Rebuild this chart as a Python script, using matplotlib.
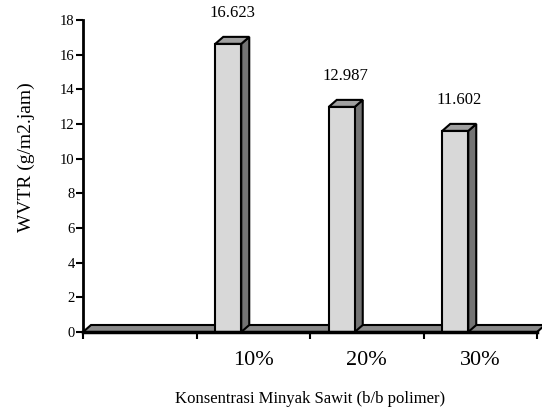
import matplotlib
matplotlib.use('Agg')
import matplotlib.pyplot as plt
from matplotlib.patches import Polygon

plt.rcParams['font.family'] = ['Liberation Serif', 'DejaVu Serif']

# data
categories = ['', '10%', '20%', '30%']
wvtr = [None, 16.623, 12.987, 11.602]
value_labels = ['', '16.623', '12.987', '11.602']

fig = plt.figure(figsize=(5.42, 4.09), dpi=100)
ax = fig.add_axes([83 / 542, 77 / 409, 454 / 542, 312 / 409])
ax.set_xlim(0, 4)
ax.set_ylim(0, 18)

# 3D-ish offsets in data units (about 8 px right, 7 px up)
px_x = 4 / 454
px_y = 18 / 312
dx = 8 * px_x
dy = 7 * px_y
bar_w = 26 * px_x
shift = -38 * px_x  # bar left relative to category center

front_col = '#d8d8d8'
side_col = '#747474'
top_col = '#a0a0a0'

# floor slab
floor = Polygon([(0, 0), (4, 0), (4 + dx, dy), (0 + dx, dy)], closed=True,
                facecolor='#8a8a8a', edgecolor='black', lw=1.5,
                clip_on=False, zorder=2)
ax.add_patch(floor)

for i, v in enumerate(wvtr):
    if v is None:
        continue
    x0 = i + 0.5 + shift
    x1 = x0 + bar_w
    # front
    ax.add_patch(Polygon([(x0, 0), (x1, 0), (x1, v), (x0, v)], closed=True,
                         facecolor=front_col, edgecolor='black', lw=1.5, zorder=4))
    # side
    ax.add_patch(Polygon([(x1, 0), (x1 + dx, dy), (x1 + dx, v + dy), (x1, v)], closed=True,
                         facecolor=side_col, edgecolor='black', lw=1.5, zorder=3))
    # top
    ax.add_patch(Polygon([(x0, v), (x1, v), (x1 + dx, v + dy), (x0 + dx, v + dy)], closed=True,
                         facecolor=top_col, edgecolor='black', lw=1.5, zorder=3))
    ax.text(x0 + (bar_w + dx) / 2, v + 1.8, value_labels[i], ha='center', va='center',
            fontsize=12)

# axes styling
for s in ['top', 'right']:
    ax.spines[s].set_visible(False)
ax.spines['left'].set_linewidth(2)
ax.spines['bottom'].set_linewidth(2.5)
ax.spines['bottom'].set_zorder(5)

ax.set_yticks(range(0, 19, 2))
ax.tick_params(axis='y', direction='out', length=5, width=1.5, labelsize=10.5, pad=1)

ax.set_xticks(range(0, 5))
ax.set_xticklabels([])
ax.set_xticks([0.5, 1.5, 2.5, 3.5], minor=True)
ax.set_xticklabels(categories, minor=True, fontsize=16)
ax.tick_params(axis='x', which='major', direction='out', length=5, width=1.5)
ax.tick_params(axis='x', which='minor', length=0, pad=14)

ax.set_ylabel('WVTR (g/m2.jam)', fontsize=14, va='center')
ax.yaxis.set_label_coords(-0.125, 0.56)
ax.set_xlabel('Konsentrasi Minyak Sawit (b/b polimer)', fontsize=12, labelpad=15)

fig.savefig('out.png', dpi=100)
